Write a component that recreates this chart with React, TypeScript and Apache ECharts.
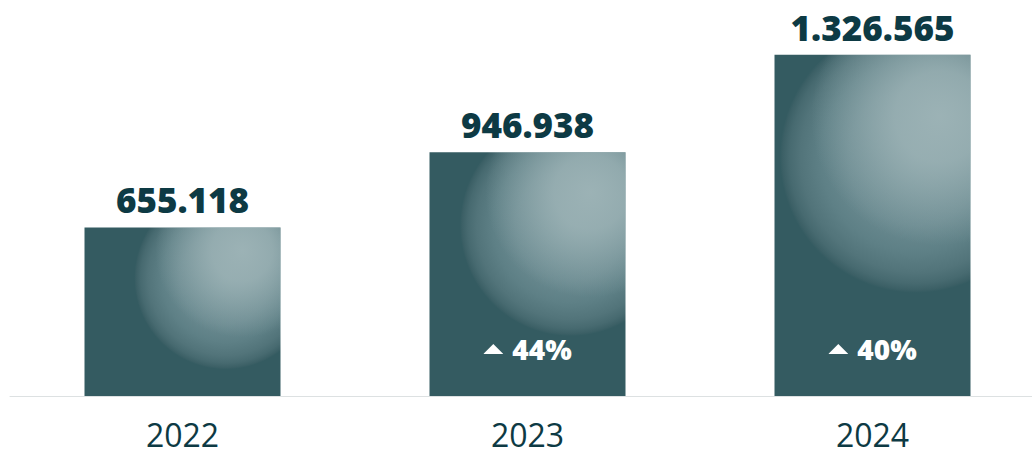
import React, { useEffect, useRef } from "react";
import * as echarts from "echarts";

const years = ["2022", "2023", "2024"];
const revenue = [655118, 946938, 1326565];
const growth = ["", "44%", "40%"];

const fmt = (v: number) => String(v).replace(/\B(?=(\d{3})+(?!\d))/g, ".");

const TRI =
  "data:image/svg+xml;charset=utf-8," +
  encodeURIComponent(
    '<svg xmlns="http://www.w3.org/2000/svg" width="20" height="10" viewBox="0 0 20 10" preserveAspectRatio="none"><polygon points="0,10 10,0 20,10" fill="#ffffff"/></svg>'
  );

const DARK = "#345b61";
const TEXT = "#0d3a44";
const baseStops = [
  { offset: 0, color: "#7a989d" },
  { offset: 0.5, color: "#6a8a90" },
  { offset: 0.7, color: "#5e8086" },
  { offset: 0.85, color: "#52747a" },
  { offset: 0.93, color: "#476a70" },
  { offset: 0.98, color: "#3c6066" },
  { offset: 1, color: DARK },
];
const glowStops = [
  { offset: 0, color: "rgba(158,180,183,0.95)" },
  { offset: 0.35, color: "rgba(158,180,183,0.8)" },
  { offset: 0.65, color: "rgba(158,180,183,0.42)" },
  { offset: 1, color: "rgba(158,180,183,0)" },
];

export default function App() {
  const ref = useRef<HTMLDivElement>(null);
  useEffect(() => {
    const chart = echarts.init(ref.current!, null, { renderer: "svg" });
    chart.setOption({
      animation: false,
      backgroundColor: "#ffffff",
      grid: { left: 10, right: 0, top: 10, bottom: 61 },
      xAxis: {
        type: "category",
        data: years,
        axisLine: { lineStyle: { color: "#dde1e2", width: 1 } },
        axisTick: { show: false },
        axisLabel: {
          fontFamily: "Open Sans",
          fontSize: 32,
          lineHeight: 32,
          color: TEXT,
          margin: 22,
        },
      },
      yAxis: { type: "value", min: 0, max: 1500000, show: false },
      series: [
        {
          type: "custom",
          silent: true,
          z: 1,
          data: revenue.map((v, i) => [i, v]),
          encode: { x: 0, y: 1 },
          renderItem: (params: any, api: any) => {
            const idx = api.value(0);
            const val = api.value(1);
            const top = api.coord([idx, val]);
            const base = api.coord([idx, 0]);
            const w = 196;
            const x = top[0] - w / 2;
            const h = base[1] - top[1];
            const cx = x + 0.72 * w;
            const cy = top[1] + 0.3 * h;
            const r = 48 + 0.257 * h;
            const fx = cx + 0.18 * r;
            const fy = cy - 0.3 * r;
            const shape = { x, y: top[1], width: w, height: h };
            return {
              type: "group",
              children: [
                {
                  type: "rect",
                  shape,
                  style: {
                    fill: new echarts.graphic.RadialGradient(cx, cy, r, baseStops, true),
                  },
                },
                {
                  type: "rect",
                  shape,
                  style: {
                    fill: new echarts.graphic.RadialGradient(fx, fy, 0.95 * r, glowStops, true),
                  },
                },
              ],
            };
          },
        },
        {
          type: "bar",
          z: 3,
          data: revenue,
          barWidth: 196,
          itemStyle: { color: "rgba(0,0,0,0)" },
          label: {
            show: true,
            position: "top",
            distance: 10,
            fontFamily: "Open Sans",
            fontWeight: 800,
            fontSize: 35,
            color: TEXT,
            formatter: (p: any) => fmt(p.value),
          },
        },
        {
          type: "bar",
          z: 4,
          data: revenue,
          barWidth: 196,
          barGap: "-100%",
          itemStyle: { color: "rgba(0,0,0,0)" },
          label: {
            show: true,
            position: "insideBottom",
            distance: 33,
            formatter: (p: any) =>
              growth[p.dataIndex] ? `{tri|}{pct|${growth[p.dataIndex]}}` : "",
            rich: {
              tri: {
                width: 20,
                height: 10,
                verticalAlign: "middle",
                backgroundColor: { image: TRI },
              },
              pct: {
                fontFamily: "Open Sans",
                fontWeight: 800,
                fontSize: 28,
                color: "#ffffff",
                padding: [0, 0, 0, 9],
                verticalAlign: "middle",
              },
            },
          },
        },
      ],
    });
    return () => chart.dispose();
  }, []);
  return (
    <div
      style={{
        position: "fixed",
        left: 0,
        top: 0,
        width: 1032,
        height: 457,
        overflow: "hidden",
        background: "#ffffff",
      }}
    >
      <div ref={ref} style={{ width: 1045, height: 457 }} />
    </div>
  );
}
